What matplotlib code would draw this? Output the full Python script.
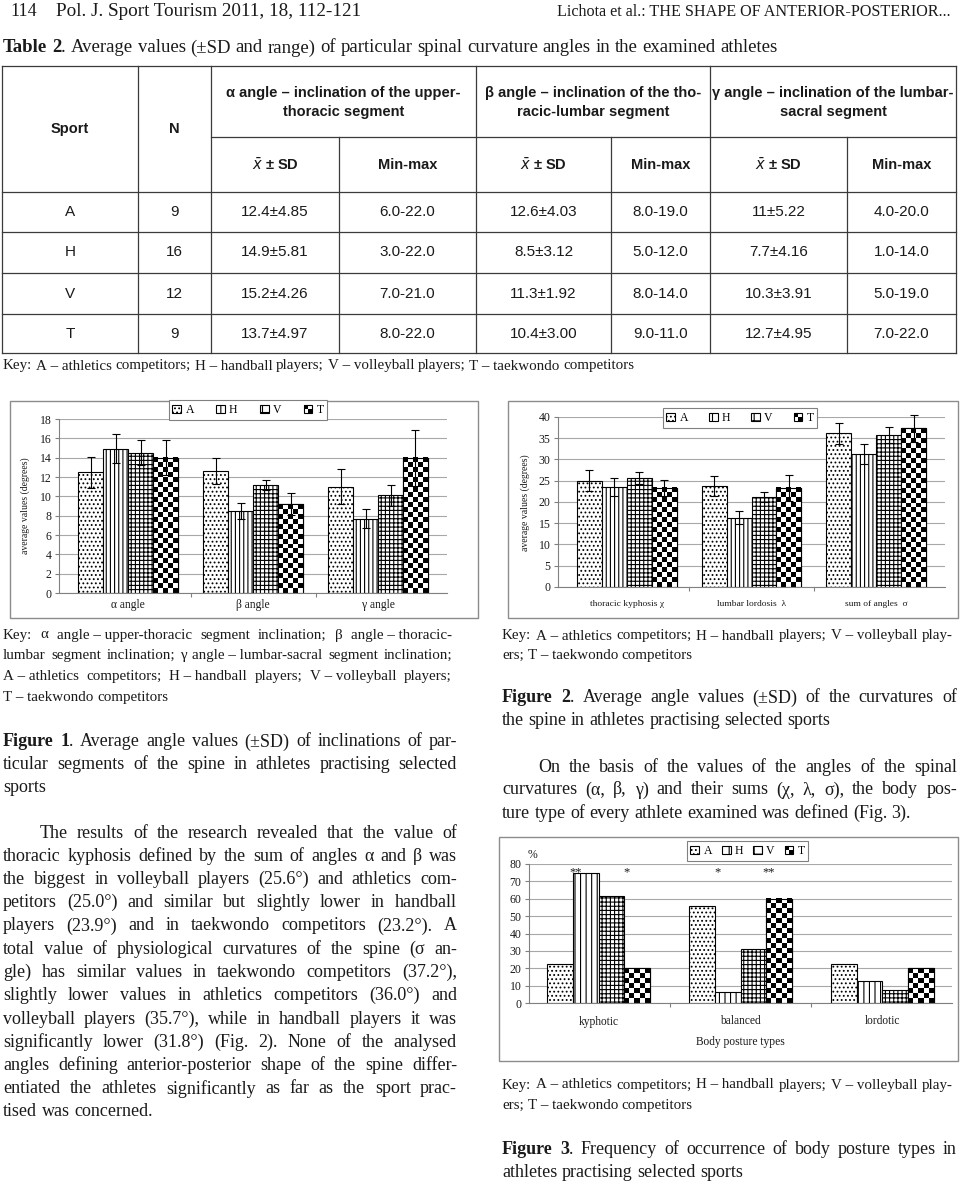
import numpy as np
import matplotlib
matplotlib.use('Agg')
import matplotlib.pyplot as plt
from matplotlib.patches import Rectangle, Patch
from matplotlib.legend_handler import HandlerBase

# ---------------- data ----------------
sports = ['A', 'H', 'V', 'T']

# Table 2
tab_N = ['9', '16', '12', '9']
tab_alpha_msd = ['12.4±4.85', '14.9±5.81', '15.2±4.26', '13.7±4.97']
tab_alpha_rng = ['6.0-22.0', '3.0-22.0', '7.0-21.0', '8.0-22.0']
tab_beta_msd = ['12.6±4.03', '8.5±3.12', '11.3±1.92', '10.4±3.00']
tab_beta_rng = ['8.0-19.0', '5.0-12.0', '8.0-14.0', '9.0-11.0']
tab_gamma_msd = ['11±5.22', '7.7±4.16', '10.3±3.91', '12.7±4.95']
tab_gamma_rng = ['4.0-20.0', '1.0-14.0', '5.0-19.0', '7.0-22.0']

# Figure 1
fig1_cats = ['α angle', 'β angle', 'γ angle']
fig1_A = [12.5, 12.6, 11.0]
fig1_H = [14.9, 8.5, 7.7]
fig1_V = [14.5, 11.2, 10.1]
fig1_T = [14.0, 9.2, 14.0]
fig1_A_err = [1.6, 1.35, 1.8]
fig1_H_err = [1.5, 0.8, 1.0]
fig1_V_err = [1.3, 0.5, 1.05]
fig1_T_err = [1.8, 1.15, 2.9]
fig1_yticks = [0, 2, 4, 6, 8, 10, 12, 14, 16, 18]

# Figure 2
fig2_cats = ['thoracic kyphosis χ', 'lumbar lordosis  λ', 'sum of angles  σ']
fig2_A = [25.0, 23.7, 36.2]
fig2_H = [23.5, 16.3, 31.3]
fig2_V = [25.7, 21.2, 35.8]
fig2_T = [23.3, 23.3, 37.3]
fig2_A_err = [2.45, 2.35, 2.5]
fig2_H_err = [2.05, 1.55, 2.3]
fig2_V_err = [1.4, 1.15, 1.9]
fig2_T_err = [1.85, 3.0, 3.1]
fig2_yticks = [0, 5, 10, 15, 20, 25, 30, 35, 40]

# Figure 3
fig3_cats = ['kyphotic', 'balanced', 'lordotic']
fig3_A = [22.2, 55.6, 22.2]
fig3_H = [75.0, 6.3, 12.5]
fig3_V = [61.5, 30.8, 7.7]
fig3_T = [20.0, 60.0, 20.0]
fig3_yticks = [0, 10, 20, 30, 40, 50, 60, 70, 80]
fig3_sig = [('kyphotic', 'H', '**'), ('kyphotic', 'T', '*'),
            ('balanced', 'H', '*'), ('balanced', 'T', '**')]

# ---------------- texts ----------------
key_left = [
    "Key: α angle – upper-thoracic segment inclination; β angle – thoracic-",
    "lumbar segment inclination; γ angle – lumbar-sacral segment inclination;",
    "A – athletics competitors; H – handball players; V – volleyball players;",
    "T – taekwondo competitors"]
cap1 = ["§Figure §1|. Average angle values (±SD) of inclinations of par-",
        "ticular segments of the spine in athletes practising selected",
        "sports"]
body_left = [
    "The results of the research revealed that the value of",
    "thoracic kyphosis defined by the sum of angles α and β was",
    "the biggest in volleyball players (25.6°) and athletics com-",
    "petitors (25.0°) and similar but slightly lower in handball",
    "players (23.9°) and in taekwondo competitors (23.2°). A",
    "total value of physiological curvatures of the spine (σ an-",
    "gle) has similar values in taekwondo competitors (37.2°),",
    "slightly lower values in athletics competitors (36.0°) and",
    "volleyball players (35.7°), while in handball players it was",
    "significantly lower (31.8°) (Fig. 2). None of the analysed",
    "angles defining anterior-posterior shape of the spine differ-",
    "entiated the athletes significantly as far as the sport prac-",
    "tised was concerned."]
key_right = ["Key: A – athletics competitors; H – handball players; V – volleyball play-",
             "ers; T – taekwondo competitors"]
cap2 = ["§Figure §2|. Average angle values (±SD) of the curvatures of",
        "the spine in athletes practising selected sports"]
body_right = ["On the basis of the values of the angles of the spinal",
              "curvatures (α, β, γ) and their sums (χ, λ, σ), the body pos-",
              "ture type of every athlete examined was defined (Fig. 3)."]
cap3 = ["§Figure §3|. Frequency of occurrence of body posture types in",
        "athletes practising selected sports"]

# ---------------- setup ----------------
W, H = 960, 1184
SERIF = ['Liberation Serif', 'DejaVu Serif']
NARROW = ['Liberation Sans Narrow', 'Liberation Sans', 'DejaVu Sans']
TXT = '#1a1a1a'
NBSP = '\u00a0'
plt.rcParams['hatch.linewidth'] = 0.8
plt.rcParams['font.family'] = SERIF

fig = plt.figure(figsize=(W / 100, H / 100), dpi=100)
page = fig.add_axes([0, 0, 1, 1], zorder=0)
page.set_xlim(0, W)
page.set_ylim(H, 0)
page.axis('off')
renderer = fig.canvas.get_renderer()

_w_cache = {}


def measure(s, size, weight, family):
    """Advance width of a string in pixels (probe chars on both sides)."""
    key = (s, size, weight, tuple(family))
    if key not in _w_cache:
        t1 = page.text(0, 0, 'H' + s + 'H', fontsize=size, fontweight=weight, family=family)
        t2 = page.text(0, 0, 'HH', fontsize=size, fontweight=weight, family=family)
        _w_cache[key] = t1.get_window_extent(renderer).width - t2.get_window_extent(renderer).width
        t1.remove()
        t2.remove()
    return _w_cache[key]


def tokens_of(line):
    line = line.replace(' – ', NBSP + '–' + NBSP)
    words = []
    for w in line.split(' '):
        if w == '':
            continue
        segs = []
        for s in w.split('|'):
            if s.startswith('§'):
                segs.append((s[1:], 'bold'))
            else:
                segs.append((s, 'normal'))
        words.append(segs)
    return words


def put_line(line, x0, x1, y, size, justify=True, family=SERIF, color=TXT):
    words = tokens_of(line)
    n = len(words)
    fs = size
    widths = [sum(measure(s, fs, wt, family) for s, wt in segs) for segs in words]
    sp = measure(' ', fs, 'normal', family)
    if justify and n > 1:
        need = sum(widths) + (n - 1) * 0.55 * sp
        if need > (x1 - x0):
            fs = round(size * (x1 - x0) / need, 2)
            widths = [sum(measure(s, fs, wt, family) for s, wt in segs) for segs in words]
            sp = measure(' ', fs, 'normal', family)
        gap = max((x1 - x0 - sum(widths)) / (n - 1), 0.5 * sp)
    else:
        gap = sp
    x = x0
    for segs, wsum in zip(words, widths):
        xx = x
        for s, wt in segs:
            page.text(xx, y, s, fontsize=fs, fontweight=wt, family=family,
                      color=color, va='center', ha='left')
            xx += measure(s, fs, wt, family)
        x += wsum + gap


def put_par(lines, x0, x1, y0, dy, size, indent=0):
    for i, ln in enumerate(lines):
        put_line(ln, x0 + (indent if i == 0 else 0), x1, y0 + i * dy, size,
                 justify=(i < len(lines) - 1))


# ---------------- header ----------------
page.text(10, 12, '114', fontsize=13, family=SERIF, color=TXT, va='center')
page.text(56, 12, 'Pol. J. Sport Tourism 2011, 18, 112-121', fontsize=13.8,
          family=SERIF, color=TXT, va='center')
page.text(951, 12, 'Lichota et al.: THE SHAPE OF ANTERIOR-POSTERIOR...', fontsize=11.6,
          family=SERIF, color=TXT, va='center', ha='right')
put_line("§Table §2|. Average values (±SD and range) of particular spinal curvature "
         "angles in the examined athletes", 3, 800, 48, 13.5, justify=False)

# ---------------- table ----------------
cols = [2, 138, 211, 339, 476, 611, 710, 847, 956]
rows = [66, 137, 192, 232, 273, 314, 353]
LC = '#3a3a3a'
LW = 0.9
for x in [cols[0], cols[1], cols[2], cols[4], cols[6], cols[8]]:
    page.plot([x, x], [rows[0], rows[-1]], color=LC, lw=LW)
for x in [cols[3], cols[5], cols[7]]:
    page.plot([x, x], [rows[1], rows[-1]], color=LC, lw=LW)
page.plot([cols[0], cols[-1]], [rows[0], rows[0]], color=LC, lw=LW)
page.plot([cols[2], cols[-1]], [rows[1], rows[1]], color=LC, lw=LW)
for y in rows[2:]:
    page.plot([cols[0], cols[-1]], [y, y], color=LC, lw=LW)

hdr_kw = dict(fontsize=10.5, family=NARROW, fontweight='bold', color=TXT, ha='center', va='center')
page.text((cols[0] + cols[1]) / 2, 129, 'Sport', **hdr_kw)
page.text((cols[1] + cols[2]) / 2, 129, 'N', **hdr_kw)
group_hdr = [('α angle – inclination of the upper-', 'thoracic segment'),
             ('β angle – inclination of the tho-', 'racic-lumbar segment'),
             ('γ angle – inclination of the lumbar-', 'sacral segment')]
for g, (l1, l2) in enumerate(group_hdr):
    cx = (cols[2 + 2 * g] + cols[4 + 2 * g]) / 2
    page.text(cx, 93, l1, **hdr_kw)
    page.text(cx, 112, l2, **hdr_kw)
    page.text((cols[2 + 2 * g] + cols[3 + 2 * g]) / 2, 165, r'$\bar{x}$ ± SD', **hdr_kw)
    page.text((cols[3 + 2 * g] + cols[4 + 2 * g]) / 2, 165, 'Min-max', **hdr_kw)

cell_kw = dict(fontsize=11, family=NARROW, color=TXT, ha='center', va='center')
table_cols = [sports, tab_N, tab_alpha_msd, tab_alpha_rng, tab_beta_msd, tab_beta_rng,
              tab_gamma_msd, tab_gamma_rng]
for r in range(4):
    cy = (rows[2 + r] + rows[3 + r]) / 2
    for c, colvals in enumerate(table_cols):
        page.text((cols[c] + cols[c + 1]) / 2, cy, colvals[r], **cell_kw)

put_line("Key: A – athletics competitors; H – handball players; V – volleyball players; "
         "T – taekwondo competitors", 3, 700, 366, 10.8, justify=False)

# ---------------- text blocks ----------------
put_par(key_left, 3, 452, 635, 20.7, 10.8)
put_par(cap1, 3, 457, 742, 22.5, 13)
put_par(body_left, 3, 457, 833, 23.25, 13, indent=37)
put_par(key_right, 502, 953, 636, 19.5, 10.8)
put_par(cap2, 502, 957, 698, 22.5, 13)
put_par(body_right, 502, 957, 767, 23.0, 13, indent=36)
put_par(key_right, 502, 953, 1085, 20.5, 10.8)
put_par(cap3, 502, 957, 1150, 22.5, 13)

# ---------------- chart frames ----------------
FRAME = '#8c8c8c'
for (l, t, r, b) in [(10, 401, 478, 618), (508, 401, 958, 618), (499, 837, 958, 1061)]:
    page.add_patch(Rectangle((l, t), r - l, b - t, fill=False, ec=FRAME, lw=1.0))


# ---------------- chart helpers ----------------
class CheckerHandler(HandlerBase):
    def create_artists(self, legend, orig_handle, xdescent, ydescent, width, height,
                       fontsize, trans):
        s = height
        x0 = -xdescent + (width - s) / 2
        y0 = -ydescent
        h = s / 2
        return [Rectangle((x0, y0), s, s, fc='white', ec='black', lw=0.8, transform=trans),
                Rectangle((x0, y0 + h), h, h, fc='black', ec='none', transform=trans),
                Rectangle((x0 + h, y0), h, h, fc='black', ec='none', transform=trans)]


def px_axes(l, t, r, b):
    ax = fig.add_axes([l / W, 1 - b / H, (r - l) / W, (b - t) / H], zorder=2)
    ax.set_facecolor('none')
    return ax


def checker(ax, bar, cpx):
    x0, w, h = bar.get_x(), bar.get_width(), bar.get_height()
    p0 = ax.transData.transform((x0, 0))
    p1 = ax.transData.transform((x0 + w, h))
    nc = max(1, int(round((p1[0] - p0[0]) / cpx)))
    nr = max(1, int(round((p1[1] - p0[1]) / cpx)))
    arr = np.add.outer(np.arange(nr), np.arange(nc)) % 2
    ax.imshow(arr, cmap='gray', vmin=0, vmax=1, extent=(x0, x0 + w, 0, h), origin='upper',
              aspect='auto', interpolation='nearest', zorder=2.5)


def bar_chart(ax, cats, series, errs, width, hatches, xmargin, ymax, yticks,
              tick_fs, cat_fs, cat_pad, legend_box, legend_fs):
    x = np.arange(len(cats))
    xlim = (-xmargin, len(cats) - 1 + xmargin)
    ax.set_xlim(*xlim)
    ax.set_ylim(0, ymax)
    offsets = (np.arange(len(series)) - (len(series) - 1) / 2) * width
    positions = {}
    for k, vals in enumerate(series):
        pos = x + offsets[k]
        positions[sports[k]] = pos
        if sports[k] == 'T':
            bars = ax.bar(pos, vals, width, color='white', edgecolor='black', lw=0.8, zorder=2)
            for b in bars:
                checker(ax, b, 5.0)
            ax.bar(pos, vals, width, fill=False, edgecolor='black', lw=0.8, zorder=3)
        else:
            ax.bar(pos, vals, width, color='white', edgecolor='black', hatch=hatches[k],
                   lw=0.8, zorder=2)
        if errs is not None:
            eb = ax.errorbar(pos, vals, yerr=errs[k], fmt='none', ecolor='black',
                             elinewidth=0.8, capsize=3, capthick=0.8, zorder=4)
            for a in list(eb.lines[1]) + list(eb.lines[2]):
                a.set_clip_on(False)
    ax.set_xlim(*xlim)
    ax.set_ylim(0, ymax)
    ax.set_yticks(yticks)
    ax.set_yticklabels([str(v) for v in yticks], fontsize=tick_fs, family=SERIF, color=TXT)
    ax.set_xticks(x)
    ax.set_xticklabels(cats, fontsize=cat_fs, family=SERIF, color=TXT)
    ax.set_xticks(np.arange(len(cats) - 1) + 0.5, minor=True)
    ax.tick_params(axis='x', which='major', length=0, pad=cat_pad)
    ax.tick_params(axis='x', which='minor', length=3, color='#808080', width=0.8)
    ax.tick_params(axis='y', length=3, color='#808080', width=0.8, pad=2.5)
    ax.yaxis.grid(True, color='#a8a8a8', lw=0.8)
    ax.set_axisbelow(True)
    for s in ['top', 'right']:
        ax.spines[s].set_visible(False)
    for s in ['left', 'bottom']:
        ax.spines[s].set_color('#808080')
        ax.spines[s].set_linewidth(0.8)
    ax.spines['bottom'].set_zorder(5)
    handles = [Patch(fc='white', ec='black', hatch=h, lw=0.8) for h in ['....', '||', '++']]
    handles.append(Patch(fc='white', ec='black'))
    l, t, r, b = legend_box
    leg = ax.legend(handles, sports, ncol=4, mode='expand', loc='center',
                    bbox_to_anchor=(l / W, 1 - b / H, (r - l) / W, (b - t) / H),
                    bbox_transform=fig.transFigure,
                    prop={'family': SERIF, 'size': legend_fs},
                    handlelength=0.75, handleheight=0.75, handletextpad=0.35,
                    borderpad=0.3, fancybox=False, framealpha=1, edgecolor='#808080',
                    handler_map={handles[3]: CheckerHandler()})
    leg.get_frame().set_linewidth(0.8)
    leg.set_zorder(10)
    return positions


# ---------------- Figure 1 ----------------
ax1 = px_axes(59, 419, 447, 593)
bar_chart(ax1, fig1_cats, [fig1_A, fig1_H, fig1_V, fig1_T],
          [fig1_A_err, fig1_H_err, fig1_V_err, fig1_T_err], 0.2,
          ['....', '||||', '++++', None], 0.552, 18, fig1_yticks,
          8.5, 8.3, 4.0, (163, 400, 333, 420), 8.5)
page.text(25, 506, 'average values (degrees)', rotation=90, fontsize=7, family=SERIF,
          color=TXT, ha='center', va='center')

# ---------------- Figure 2 ----------------
ax2 = px_axes(558, 417, 945, 587)
bar_chart(ax2, fig2_cats, [fig2_A, fig2_H, fig2_V, fig2_T],
          [fig2_A_err, fig2_H_err, fig2_V_err, fig2_T_err], 0.2,
          ['....', '||||', '++++', None], 0.552, 40, fig2_yticks,
          8.5, 6.8, 9.5, (657, 408, 823, 428), 8.5)
page.text(525, 503, 'average values (degrees)', rotation=90, fontsize=7, family=SERIF,
          color=TXT, ha='center', va='center')

# ---------------- Figure 3 ----------------
ax3 = px_axes(529, 864, 952, 1003)
pos3 = bar_chart(ax3, fig3_cats, [fig3_A, fig3_H, fig3_V, fig3_T], None, 0.18,
                 ['....', '|||', '++++', None], 0.49, 80, fig3_yticks,
                 8.5, 8.3, 9.0, (681, 842, 814, 860), 8.5)
ax3.set_xlabel('Body posture types', fontsize=8.3, family=SERIF, color=TXT, labelpad=6)
page.text(528, 855, '%', fontsize=8.5, family=SERIF, color=TXT, va='center', ha='left')
for cat, sp, mark in fig3_sig:
    ci = fig3_cats.index(cat)
    xs = pos3[sp][ci] - 0.18 / 2 + 0.02
    ax3.text(xs, 73.5, mark, fontsize=9, family=SERIF, color=TXT, ha='center',
             va='baseline', zorder=6)

fig.savefig('out.png', dpi=100)
